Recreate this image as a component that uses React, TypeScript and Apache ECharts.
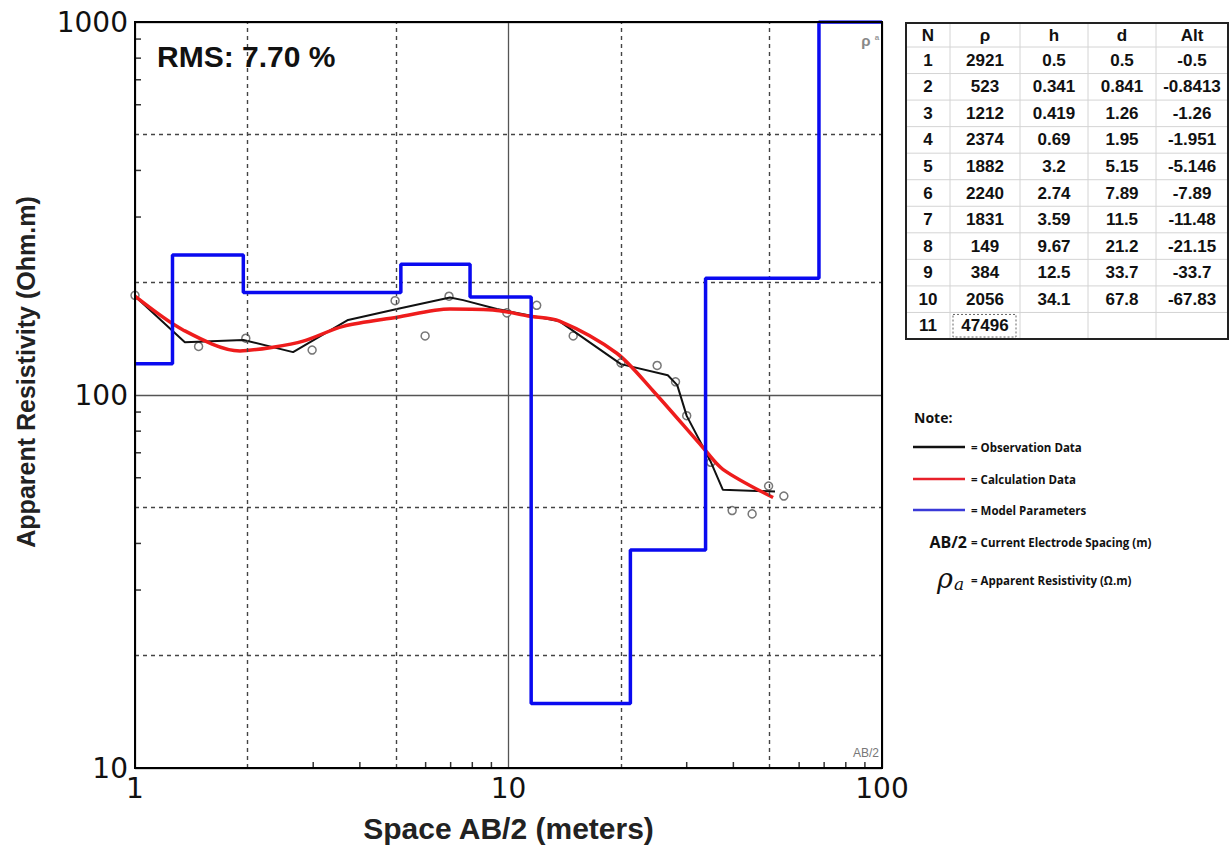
import React, { useEffect, useRef } from "react";
import * as echarts from "echarts";

// Observation data (circles)
const obsX = [1, 1.48, 1.98, 2.98, 4.97, 5.98, 6.93, 9.9, 11.9, 14.9, 20, 25, 28, 30, 34.8, 39.7, 44.9, 49.7, 54.6];
const obsY = [185, 135, 142, 132, 179, 144, 184, 166, 174, 144, 122, 120, 108.5, 88, 66, 49, 48, 57, 53.6];

// Observation line (black)
const blackX = [1, 1.36, 1.95, 2.65, 3.07, 3.72, 5.03, 6.97, 7.56, 9.31, 13.7, 20, 26.7, 28.3, 30, 34.8, 37.5, 44.3, 51.7];
const blackY = [184, 138.5, 140.5, 130.3, 142, 158.9, 170, 182.6, 179.6, 170, 157.6, 121, 113, 106.3, 87.9, 66.2, 55.7, 55.4, 55.1];

// Calculation line (red)
const redX = [1, 1.345, 1.91, 2.34, 2.82, 3.61, 5.03, 6.97, 9.31, 11.28, 13.7, 19.5, 24.4, 33.2, 37.5, 51.1];
const redY = [184, 149.4, 131.3, 134.3, 139.4, 152.8, 161.6, 170, 168.6, 162.8, 157.8, 129.4, 102.5, 72.2, 63.2, 53.1];

// Model parameters (blue step)
const modelX = [1, 1.26, 1.95, 5.15, 7.89, 11.5, 21.2, 33.7, 67.8, 100];
const modelY = [121.2, 237.4, 188.2, 224.0, 183.1, 14.9, 38.4, 205.6, 1000, 1000];

// Grid helpers
const dashedX = [2, 5, 20, 50];
const dashedY = [20, 50, 200, 500];
const minorX = [3, 4, 6, 7, 8, 9, 30, 40, 60, 70, 80, 90];
const minorY = [30, 40, 60, 70, 80, 90, 300, 400, 600, 700, 800, 900];

// Table
const tableHeaders = ["N", "ρ", "h", "d", "Alt"];
const tableN = ["1", "2", "3", "4", "5", "6", "7", "8", "9", "10", "11"];
const tableRho = ["2921", "523", "1212", "2374", "1882", "2240", "1831", "149", "384", "2056", "47496"];
const tableH = ["0.5", "0.341", "0.419", "0.69", "3.2", "2.74", "3.59", "9.67", "12.5", "34.1", ""];
const tableD = ["0.5", "0.841", "1.26", "1.95", "5.15", "7.89", "11.5", "21.2", "33.7", "67.8", ""];
const tableAlt = ["-0.5", "-0.8413", "-1.26", "-1.951", "-5.146", "-7.89", "-11.48", "-21.15", "-33.7", "-67.83", ""];

const noteItems = ["= Observation Data", "= Calculation Data", "= Model Parameters"];
const noteColors = ["#111111", "#e8202a", "#3a3ad8"];

const SANS = '"Liberation Sans", Arial, sans-serif';
const OPEN = '"Open Sans", sans-serif';

function buildGraphics() {
  const g: any[] = [];
  // RMS
  g.push({
    type: "text", x: 157, y: 56, z: 20,
    style: { text: "RMS: 7.70 %", font: `bold 30px ${SANS}`, fill: "#111", align: "left", verticalAlign: "middle" },
  });
  // rho_a in plot
  g.push({ type: "text", x: 866, y: 40, z: 20, style: { text: "ρ", font: `bold 15px ${SANS}`, fill: "#888", align: "center", verticalAlign: "middle" } });
  g.push({ type: "text", x: 877, y: 37, z: 20, style: { text: "a", font: `bold 8px ${SANS}`, fill: "#999", align: "center", verticalAlign: "middle" } });
  g.push({ type: "text", x: 879, y: 753, z: 20, style: { text: "AB/2", font: `12px ${SANS}`, fill: "#777", align: "right", verticalAlign: "middle" } });

  // Table
  const tx0 = 906, tx1 = 1228, ty0 = 23, ty1 = 339;
  const colSeps = [950, 1020, 1088, 1156];
  const colCenters = [928, 985, 1054, 1122, 1192];
  g.push({ type: "rect", shape: { x: tx0, y: ty0, width: tx1 - tx0, height: ty1 - ty0 }, style: { fill: "#fff", stroke: "#222", lineWidth: 2 }, z: 5 });
  colSeps.forEach((cx) => {
    g.push({ type: "line", shape: { x1: cx, y1: ty0 + 1, x2: cx, y2: ty1 - 1 }, style: { stroke: "#d4d4d4", lineWidth: 1 }, z: 6 });
  });
  const headerH = 24;
  const rowH = (ty1 - ty0 - headerH) / 11;
  for (let i = 0; i < 11; i++) {
    const yy = ty0 + headerH + i * rowH;
    g.push({ type: "line", shape: { x1: tx0 + 1, y1: yy, x2: tx1 - 1, y2: yy }, style: { stroke: "#d4d4d4", lineWidth: 1 }, z: 6 });
  }
  tableHeaders.forEach((h, j) => {
    g.push({ type: "text", x: colCenters[j], y: ty0 + headerH / 2, z: 7, style: { text: h, font: `bold 17px ${SANS}`, fill: "#111", align: "center", verticalAlign: "middle" } });
  });
  const cols = [tableN, tableRho, tableH, tableD, tableAlt];
  for (let i = 0; i < 11; i++) {
    const yy = ty0 + headerH + i * rowH + rowH / 2;
    cols.forEach((col, j) => {
      if (col[i]) {
        g.push({ type: "text", x: colCenters[j], y: yy, z: 7, style: { text: col[i], font: `bold 17px ${SANS}`, fill: "#111", align: "center", verticalAlign: "middle" } });
      }
    });
  }
  g.push({ type: "rect", shape: { x: 953, y: ty0 + headerH + 10 * rowH + 2, width: 63, height: rowH - 4 }, style: { fill: "none", stroke: "#666", lineWidth: 1, lineDash: [2, 2] }, z: 7 });

  // Note
  g.push({ type: "text", x: 914, y: 417, style: { text: "Note:", font: `bold 14px ${OPEN}`, fill: "#111", align: "left", verticalAlign: "middle" } });
  const noteYs = [447, 479, 510];
  noteItems.forEach((t, i) => {
    g.push({ type: "line", shape: { x1: 913, y1: noteYs[i], x2: 965, y2: noteYs[i] }, style: { stroke: noteColors[i], lineWidth: 2.6 } });
    g.push({ type: "text", x: 971, y: noteYs[i], style: { text: t, font: `bold 11.5px ${OPEN}`, fill: "#111", align: "left", verticalAlign: "middle" } });
  });
  g.push({ type: "text", x: 967, y: 542, style: { text: "AB/2", font: `bold 16px ${OPEN}`, fill: "#111", align: "right", verticalAlign: "middle" } });
  g.push({ type: "text", x: 971, y: 542, style: { text: "= Current Electrode Spacing (m)", font: `bold 11.5px ${OPEN}`, fill: "#111", align: "left", verticalAlign: "middle" } });
  g.push({ type: "text", x: 945, y: 578, style: { text: "ρ", font: `italic 27px "DejaVu Serif", serif`, fill: "#111", align: "center", verticalAlign: "middle" } });
  g.push({ type: "text", x: 959, y: 584, style: { text: "a", font: `italic 17px "DejaVu Serif", serif`, fill: "#111", align: "center", verticalAlign: "middle" } });
  g.push({ type: "text", x: 971, y: 580, style: { text: "= Apparent Resistivity (Ω.m)", font: `bold 11.5px ${OPEN}`, fill: "#111", align: "left", verticalAlign: "middle" } });
  return g;
}

export default function App() {
  const ref = useRef<HTMLDivElement>(null);
  useEffect(() => {
    if (!ref.current) return;
    const chart = echarts.init(ref.current, null, { renderer: "svg" });
    const pairs = (xs: number[], ys: number[]) => xs.map((x, i) => [x, ys[i]]);
    const option: any = {
      animation: false,
      backgroundColor: "#fff",
      grid: { left: 135, top: 22, width: 747, height: 749, show: true, borderColor: "#000", borderWidth: 2, backgroundColor: "transparent", z: 10 },
      xAxis: {
        type: "log", logBase: 10, min: 1, max: 100,
        name: "Space AB/2 (meters)", nameLocation: "middle", nameGap: 45,
        nameTextStyle: { fontFamily: SANS, fontWeight: "bold", fontSize: 30, color: "#222" },
        axisLine: { show: false },
        axisTick: { show: false },
        axisLabel: { fontFamily: '"DejaVu Sans", sans-serif', fontSize: 28, color: "#111", margin: 6, formatter: (v: number) => String(v) },
        splitLine: { show: true, lineStyle: { color: "#555", width: 1.3 } },
      },
      yAxis: {
        type: "log", logBase: 10, min: 10, max: 1000,
        name: "Apparent Resistivity (Ohm.m)", nameLocation: "middle", nameGap: 97,
        nameTextStyle: { fontFamily: SANS, fontWeight: "bold", fontSize: 25, color: "#222", padding: [0, 0, 0, 46] },
        axisLine: { show: false },
        axisTick: { show: false },
        axisLabel: { fontFamily: '"DejaVu Sans", sans-serif', fontSize: 28, color: "#111", margin: 7, formatter: (v: number) => String(v) },
        splitLine: { show: true, lineStyle: { color: "#555", width: 1.3 } },
      },
      graphic: buildGraphics(),
      series: [
        {
          type: "scatter",
          data: pairs(obsX, obsY),
          symbol: "circle",
          symbolSize: 8,
          itemStyle: { color: "#fff", borderColor: "#555", borderWidth: 1.5 },
          z: 2,
          markLine: {
            silent: true,
            symbol: ["none", "none"],
            label: { show: false },
            lineStyle: { type: [4, 4], color: "#444", width: 1.4 },
            data: [...dashedX.map((v) => ({ xAxis: v })), ...dashedY.map((v) => ({ yAxis: v }))],
          },
        },
        {
          type: "line",
          data: pairs(blackX, blackY),
          symbol: "none",
          lineStyle: { color: "#111", width: 2 },
          z: 3,
        },
        {
          type: "line",
          data: pairs(redX, redY),
          symbol: "none",
          smooth: 0.3,
          lineStyle: { color: "#ee1c1c", width: 3.5 },
          z: 4,
        },
        {
          type: "line",
          data: pairs(modelX, modelY),
          step: "end",
          symbol: "none",
          lineStyle: { color: "#0a0af0", width: 3.5 },
          z: 5,
        },
        {
          type: "scatter",
          silent: true,
          data: minorX.map((v) => [v, 10]),
          symbol: "rect",
          symbolSize: [1.5, 6],
          symbolOffset: [0, -3],
          itemStyle: { color: "#000" },
          z: 11,
        },
        {
          type: "scatter",
          silent: true,
          data: minorY.map((v) => [1, v]),
          symbol: "rect",
          symbolSize: [6, 1.5],
          symbolOffset: [3, 0],
          itemStyle: { color: "#000" },
          z: 11,
        },
      ],
    };
    chart.setOption(option);
    return () => chart.dispose();
  }, []);
  return <div ref={ref} style={{ position: "fixed", left: 0, top: 0, width: 1230, height: 848, background: "#fff" }} />;
}
